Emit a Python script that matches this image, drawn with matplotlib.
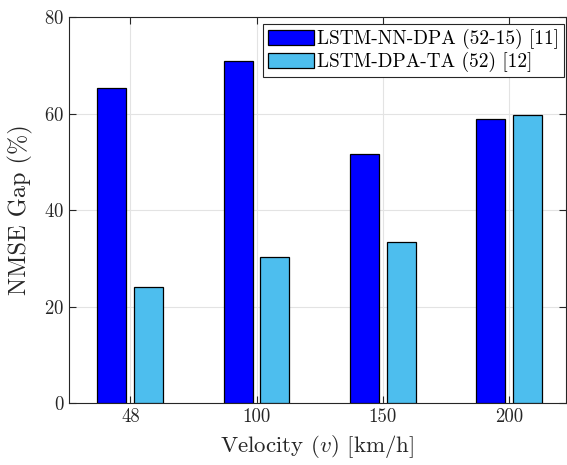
import numpy as np
import matplotlib
matplotlib.use('Agg')
import matplotlib.pyplot as plt

# NMSE gap per velocity
velocity = ['48', '100', '150', '200']
lstm_nn_dpa = [65.2, 70.9, 51.6, 58.8]
lstm_dpa_ta = [24.0, 30.3, 33.3, 59.6]
labels = ['LSTM-NN-DPA (52-15) [11]', 'LSTM-DPA-TA (52) [12]']

plt.rcParams['font.family'] = 'serif'
plt.rcParams['font.serif'] = ['cmr10', 'DejaVu Serif']
plt.rcParams['mathtext.fontset'] = 'cm'
plt.rcParams['axes.formatter.use_mathtext'] = True

fig = plt.figure(figsize=(5.67, 4.65), dpi=100)
ax = fig.add_axes([0.1217, 0.1333, 0.8765, 0.830])

x = np.arange(1, len(velocity) + 1)
w = 0.23
off = 0.145
ax.bar(x - off, lstm_nn_dpa, w, color=(0, 0, 1), edgecolor='black', linewidth=0.9,
       label=labels[0], zorder=3)
ax.bar(x + off, lstm_dpa_ta, w, color=(0.30, 0.745, 0.933), edgecolor='black', linewidth=0.9,
       label=labels[1], zorder=3)

ax.set_xlim(0.515, 4.45)
ax.set_ylim(0, 80)
ax.set_xticks(x)
ax.set_xticklabels(velocity)
ax.set_yticks([0, 20, 40, 60, 80])
ax.tick_params(direction='in', top=True, right=True, labelsize=13.5, length=5,
               color='#262626', labelcolor='#262626')
ax.grid(True, color='#e3e3e3', linewidth=0.8, zorder=0)
ax.set_axisbelow(True)
for s in ax.spines.values():
    s.set_color('#262626')
    s.set_linewidth(0.8)

ax.set_xlabel(r'Velocity ($v$) [km/h]', fontsize=16.5, color='#262626', labelpad=5)
ax.set_ylabel('NMSE Gap (%)', fontsize=17.5, color='#262626', labelpad=8)

leg = ax.legend(loc='upper right', bbox_to_anchor=(0.996, 0.982), fontsize=13.9,
                fancybox=False, framealpha=1, edgecolor='#262626', borderaxespad=0,
                handlelength=2.4, handleheight=0.85, handletextpad=0.15,
                labelspacing=0.15, borderpad=0.25)
leg.get_frame().set_linewidth(0.8)

fig.savefig('out.png', dpi=100)
